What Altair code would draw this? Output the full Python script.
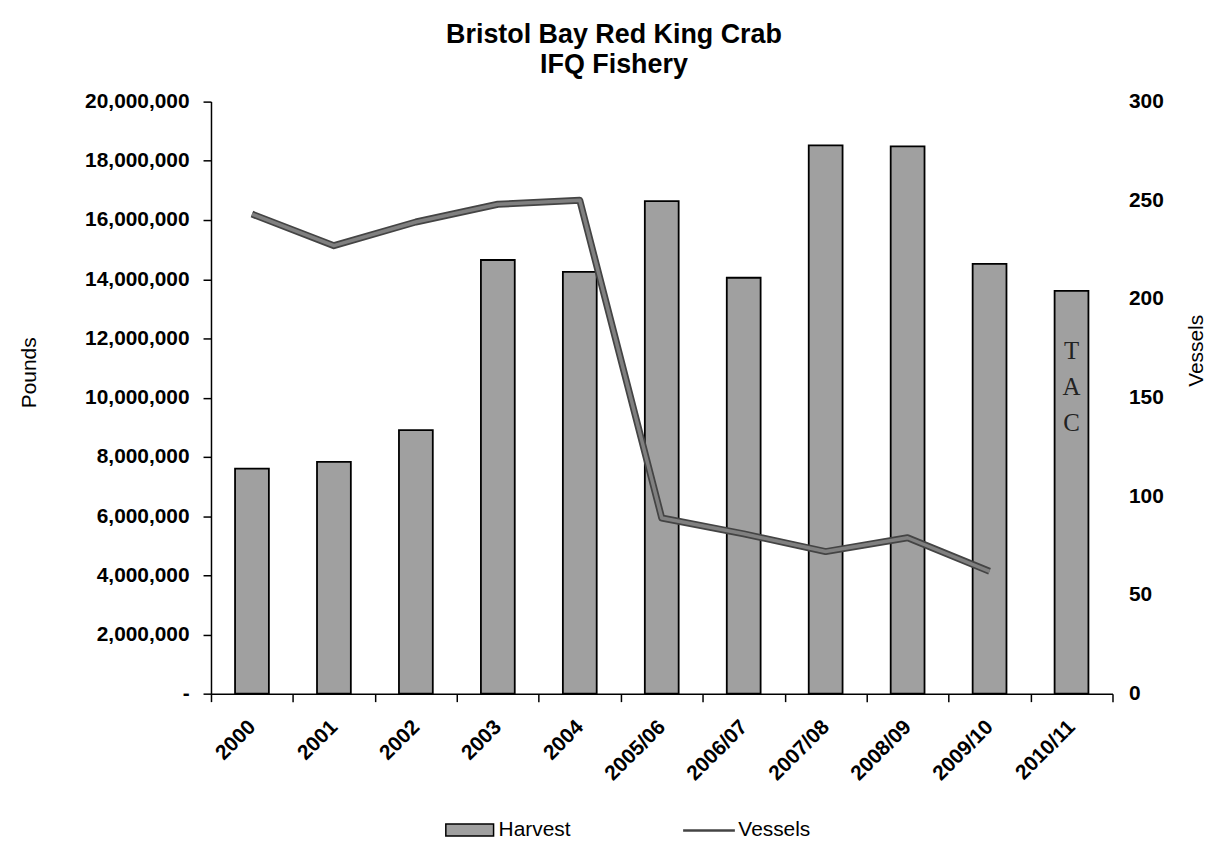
import altair as alt
import pandas as pd

# ---- data ----
seasons = ["2000", "2001", "2002", "2003", "2004", "2005/06",
           "2006/07", "2007/08", "2008/09", "2009/10", "2010/11"]
harvest_lbs = [7_600_000, 7_830_000, 8_900_000, 14_650_000, 14_250_000,
               16_640_000, 14_050_000, 18_520_000, 18_490_000, 14_520_000,
               13_610_000]
vessels = [243, 227, 239, 248, 250, 89, 81, 72, 79, 62, None]
pounds_ticks = [0, 2_000_000, 4_000_000, 6_000_000, 8_000_000, 10_000_000,
                12_000_000, 14_000_000, 16_000_000, 18_000_000, 20_000_000]
vessel_ticks = [0, 50, 100, 150, 200, 250, 300]
tac_season = ["2010/11"]
tac_text = ["T\nA\nC"]
tac_pos = [11_560_000]

FONT = "Liberation Sans"

df = pd.DataFrame({"season": seasons, "harvest": harvest_lbs,
                   "vessels": vessels})
df["series_h"] = "Harvest"
df["series_v"] = "Vessels"
tac_df = pd.DataFrame({"season": tac_season, "pos": tac_pos, "label": tac_text})

x_enc = alt.X(
    "season:N", sort=seasons,
    scale=alt.Scale(paddingInner=0, paddingOuter=0),
    axis=alt.Axis(title=None, labelAngle=315, labelAlign="right",
                  labelBaseline="middle", labelFont=FONT, labelFontSize=21,
                  labelFontWeight="bold", labelColor="black", labelPadding=22,
                  tickBand="extent", tickSize=8, tickColor="black",
                  tickWidth=1.5, domainColor="black", domainWidth=1.5,
                  grid=False),
)

left_axis = alt.Axis(
    title="Pounds", values=pounds_ticks,
    labelExpr="datum.value == 0 ? '-' : format(datum.value, ',')",
    labelFont=FONT, labelFontSize=21, labelFontWeight="bold",
    labelColor="black", labelPadding=14, tickSize=8, tickColor="black",
    tickWidth=1.5, domainColor="black", domainWidth=1.5, grid=False,
    titleFont=FONT, titleFontSize=21, titleFontWeight="normal",
    titleColor="black", titleAngle=270, titleX=-182, titleY=272,
    titleAlign="center", titleBaseline="middle",
)

right_axis = alt.Axis(
    title="Vessels", values=vessel_ticks, orient="right",
    labelFont=FONT, labelFontSize=21, labelFontWeight="bold",
    labelColor="black", labelPadding=16, ticks=False, domain=False,
    grid=False, titleFont=FONT, titleFontSize=21,
    titleFontWeight="normal", titleColor="black", titleAngle=270,
    titleX=84, titleY=250, titleAlign="center", titleBaseline="middle",
)

bars = alt.Chart(df).mark_bar(size=34, stroke="black", strokeWidth=1.8).encode(
    x=x_enc,
    y=alt.Y("harvest:Q", scale=alt.Scale(domain=[0, 20_000_000]),
            axis=left_axis),
    fill=alt.Fill("series_h:N",
                  scale=alt.Scale(domain=["Harvest"], range=["#a0a0a0"]),
                  legend=alt.Legend(
                      title=None, orient="none", legendX=235, legendY=707,
                      symbolType="M-1,-0.25H1V0.25H-1Z", symbolSize=2304,
                      symbolStrokeColor="black", symbolStrokeWidth=1.5,
                      labelFont=FONT, labelFontSize=21, labelColor="black",
                      labelOffset=4)),
)

tac = alt.Chart(tac_df).mark_text(
    font="Liberation Serif", fontSize=25, color="#222222",
    lineBreak="\n", lineHeight=36, baseline="middle", align="center",
).encode(
    x=alt.X("season:N", sort=seasons),
    y=alt.Y("pos:Q", title="Pounds"),
    text="label:N",
)

line_outer = alt.Chart(df).mark_line(strokeWidth=7, strokeJoin="round").encode(
    x=x_enc,
    y=alt.Y("vessels:Q", scale=alt.Scale(domain=[0, 300]), axis=right_axis),
    stroke=alt.Stroke("series_v:N",
                      scale=alt.Scale(domain=["Vessels"], range=["#444444"]),
                      legend=alt.Legend(
                          title=None, orient="none", legendX=473, legendY=705,
                          symbolType="stroke", symbolSize=2704,
                          symbolStrokeWidth=2.5,
                          labelFont=FONT, labelFontSize=21, labelColor="black",
                          labelOffset=2)),
)

line_inner = alt.Chart(df).mark_line(
    strokeWidth=3.5, color="#808080", strokeJoin="round"
).encode(
    x=x_enc,
    y=alt.Y("vessels:Q", scale=alt.Scale(domain=[0, 300]), axis=right_axis),
)

left = alt.layer(bars, tac)
right = alt.layer(line_outer, line_inner)

chart = alt.layer(left, right).resolve_scale(
    y="independent", fill="independent", stroke="independent"
).properties(
    width=906, height=595,
    autosize=alt.AutoSizeParams(type="none"),
    padding={"left": 204, "top": 92, "right": 100, "bottom": 150},
    title=alt.TitleParams(
        ["Bristol Bay Red King Crab", "IFQ Fishery"],
        font=FONT, fontSize=27, fontWeight="bold", color="black",
        anchor="middle", dx=-48, offset=12, lineHeight=30,
    ),
    background="white",
).configure_view(stroke=None)

chart.save("out.html", embed_options={"renderer": "svg", "actions": False})
